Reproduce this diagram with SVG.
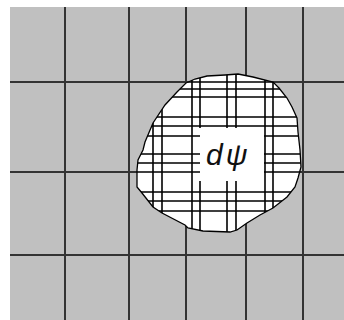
<svg xmlns="http://www.w3.org/2000/svg" width="344" height="320" viewBox="0 0 344 320">
<style>
.grid{stroke:#333;stroke-width:2;fill:none}
.hatch{stroke:#000;stroke-width:1.6;fill:none}
.lbl{font-family:"Liberation Sans","DejaVu Sans",sans-serif;font-size:30px;font-style:italic;fill:#111;letter-spacing:3px}
</style>
<defs>
<path id="blobShape" d="M186,83 L195,79 L207,76 L225,75 L238,74 L253,77 L273,82 L279,88 L287,98 L292,107 L297,118 L298,132 L300,150 L301,167 L298,178 L295,187 L287,197 L273,208 L260,215 L247,223 L237,230 L230,232 L203,231 L188,228 L185,225 L162,213 L153,207 L142,193 L137,187 L137,170 L138,160 L143,150 L145,142 L153,123 L165,105 L177,92 Z"/>
<clipPath id="blobClip"><use href="#blobShape"/></clipPath>
</defs>
<rect x="0" y="0" width="344" height="320" fill="#fff"/>
<rect x="10" y="7" width="334" height="313" fill="#c0c0c0"/>
<g id="grid" class="grid">
<path d="M65,7V320M129,7V320M186,7V320M246,7V320M303,7V320"/>
<path d="M10,82H344M10,172H344M10,255H344"/>
</g>
<g id="region">
<use href="#blobShape" fill="#fff"/>
<g clip-path="url(#blobClip)" class="hatch">
<path d="M130,82H310M130,89H310M130,97H310M130,117H310M130,126H310M130,192H310M130,201H310M130,211H310"/>
<path d="M130,136H200M130,154H200M130,163H200M130,172H200M264,136H310M264,154H310M264,163H310M264,172H310"/>
<path d="M153,70V240M162,70V240M192,70V240M265,70V240M273,70V240"/>
<path d="M200,70V128M200,181V240M227,70V128M227,181V240M236,70V128M236,181V240"/>
</g>
<use href="#blobShape" fill="none" stroke="#000" stroke-width="1.3"/>
</g>
<g id="label">
<text class="lbl" x="206" y="165">dψ</text>
</g>
</svg>
